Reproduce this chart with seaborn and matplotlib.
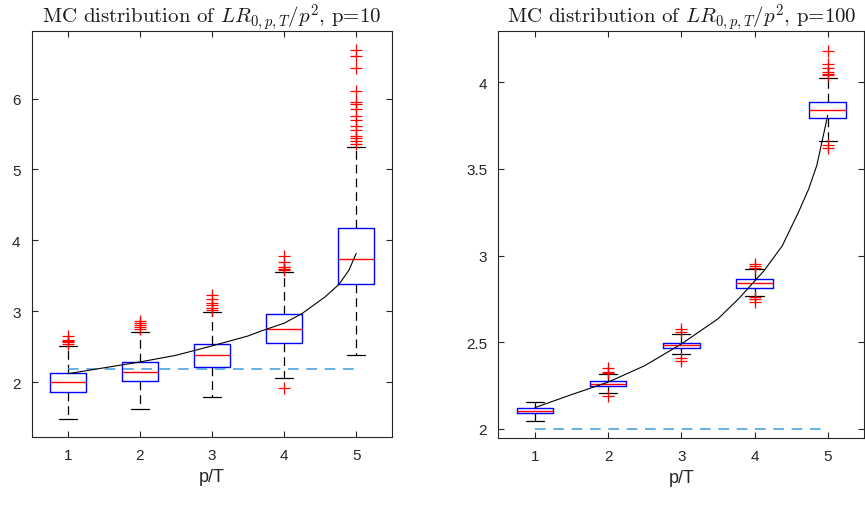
import numpy as np
import pandas as pd
import matplotlib
matplotlib.use("Agg")
import matplotlib.pyplot as plt
import seaborn as sns

# ---------------- data ----------------
ratios = [1, 2, 3, 4, 5]
tick_labels = ["1", "2", "3", "4", "5"]

# p = 10 panel
p10_med = [2.00, 2.14, 2.377, 2.755, 3.735]
p10_q1 = [1.858, 2.01, 2.217, 2.556, 3.38]
p10_q3 = [2.127, 2.287, 2.53, 2.957, 4.17]
p10_wlo = [1.485, 1.62, 1.79, 2.057, 2.377]
p10_whi = [2.514, 2.71, 2.99, 3.557, 5.31]
p10_fliers = [
    [2.54, 2.56, 2.58, 2.60, 2.65],
    [2.75, 2.78, 2.80, 2.83, 2.86],
    [3.02, 3.05, 3.09, 3.11, 3.17, 3.226],
    [1.915, 3.58, 3.60, 3.62, 3.63, 3.70, 3.78],
    [5.36, 5.40, 5.45, 5.47, 5.55, 5.62, 5.70, 5.75, 5.85, 5.93, 5.95, 6.11, 6.43, 6.60, 6.69],
]
p10_curve_x = [1.0, 1.5, 2.0, 2.5, 3.0, 3.5, 3.67, 4.0, 4.25, 4.57, 4.76, 4.9, 5.0]
p10_curve_y = [2.117, 2.20, 2.283, 2.377, 2.51, 2.65, 2.716, 2.83, 2.967, 3.203, 3.377, 3.58, 3.816]
p10_ref = 2.188

# p = 100 panel
p100_med = [2.106, 2.26, 2.483, 2.844, 3.838]
p100_q1 = [2.09, 2.246, 2.466, 2.815, 3.796]
p100_q3 = [2.123, 2.275, 2.498, 2.864, 3.885]
p100_wlo = [2.048, 2.206, 2.431, 2.769, 3.663]
p100_whi = [2.158, 2.316, 2.548, 2.923, 4.027]
p100_fliers = [
    [],
    [2.192, 2.32, 2.33, 2.35],
    [2.39, 2.41, 2.56, 2.577],
    [2.735, 2.75, 2.76, 2.93, 2.94, 2.95],
    [3.62, 3.64, 4.04, 4.05, 4.06, 4.08, 4.105, 4.18],
]
p100_curve_x = [1.0, 1.5, 2.0, 2.5, 3.0, 3.5, 3.79, 4.13, 4.38, 4.6, 4.74, 4.85, 4.92, 4.97, 5.0]
p100_curve_y = [2.123, 2.198, 2.27, 2.365, 2.49, 2.635, 2.754, 2.913, 3.057, 3.25, 3.384, 3.519, 3.654, 3.75, 3.81]
p100_ref = 2.0

titles = ["MC distribution of $LR_{0,p,T}/p^2$, p=10",
          "MC distribution of $LR_{0,p,T}/p^2$, p=100"]
xlabel = "p/T"

# ---------------- style ----------------
sns.set_theme(style="ticks")
plt.rcParams["font.family"] = ["Liberation Sans", "DejaVu Sans"]
plt.rcParams["mathtext.fontset"] = "cm"
plt.rcParams["axes.unicode_minus"] = False

fig = plt.figure(figsize=(8.65, 5.06), dpi=100)
ax1 = fig.add_axes([0.0366, 0.1338, 0.4169, 0.8024])
ax2 = fig.add_axes([0.5761, 0.1318, 0.4231, 0.8044])

panels = [
    (ax1, p10_med, p10_q1, p10_q3, p10_wlo, p10_whi, p10_fliers, p10_curve_x, p10_curve_y, p10_ref,
     (1.22, 6.95), [2, 3, 4, 5, 6], ["2", "3", "4", "5", "6"]),
    (ax2, p100_med, p100_q1, p100_q3, p100_wlo, p100_whi, p100_fliers, p100_curve_x, p100_curve_y, p100_ref,
     (1.946, 4.294), [2, 2.5, 3, 3.5, 4], ["2", "2.5", "3", "3.5", "4"]),
]

for i, (ax, med, q1, q3, wlo, whi, fl, cx, cy, ref, ylim, yt, ytl) in enumerate(panels):
    stats = []
    for k in range(len(ratios)):
        stats.append(dict(med=med[k], q1=q1[k], q3=q3[k], whislo=wlo[k], whishi=whi[k],
                          fliers=fl[k], label=tick_labels[k]))
    ax.bxp(stats, positions=ratios, widths=0.5, showfliers=True, patch_artist=False,
           boxprops=dict(color="#0000FF", linewidth=1.0),
           medianprops=dict(color="#FF0000", linewidth=1.0),
           whiskerprops=dict(color="black", linewidth=0.9, linestyle=(0, (7, 4))),
           capprops=dict(color="black", linewidth=0.9),
           capwidths=0.25,
           flierprops=dict(marker="+", markeredgecolor="#FF0000", markersize=8,
                           markeredgewidth=0.9, linestyle="none"))
    curve = pd.DataFrame({"x": cx, "y": cy})
    sns.lineplot(data=curve, x="x", y="y", ax=ax, color="black", linewidth=0.8, zorder=5)
    refdf = pd.DataFrame({"x": [ratios[0], ratios[-1]], "y": [ref, ref]})
    sns.lineplot(data=refdf, x="x", y="y", ax=ax, color="#3D9BD8", linewidth=1.1,
                 linestyle=(0, (7, 5)), zorder=4)

    ax.set_xlim(0.5, 5.5)
    ax.set_ylim(*ylim)
    ax.set_xticks(ratios)
    ax.set_xticklabels(tick_labels)
    ax.set_yticks(yt)
    ax.set_yticklabels(ytl)
    ax.set_xlabel(xlabel, fontsize=13, color="#262626", labelpad=4)
    ax.set_ylabel("")
    ax.set_title(titles[i], fontsize=15, color="#1a1a1a", pad=6, fontfamily="cmr10")
    ax.tick_params(axis="both", direction="in", top=True, right=True, length=4,
                   width=0.8, colors="#262626", labelsize=11, pad=8)
    for s in ax.spines.values():
        s.set_visible(True)
        s.set_color("#262626")
        s.set_linewidth(0.8)

fig.savefig("out.png", dpi=100)
